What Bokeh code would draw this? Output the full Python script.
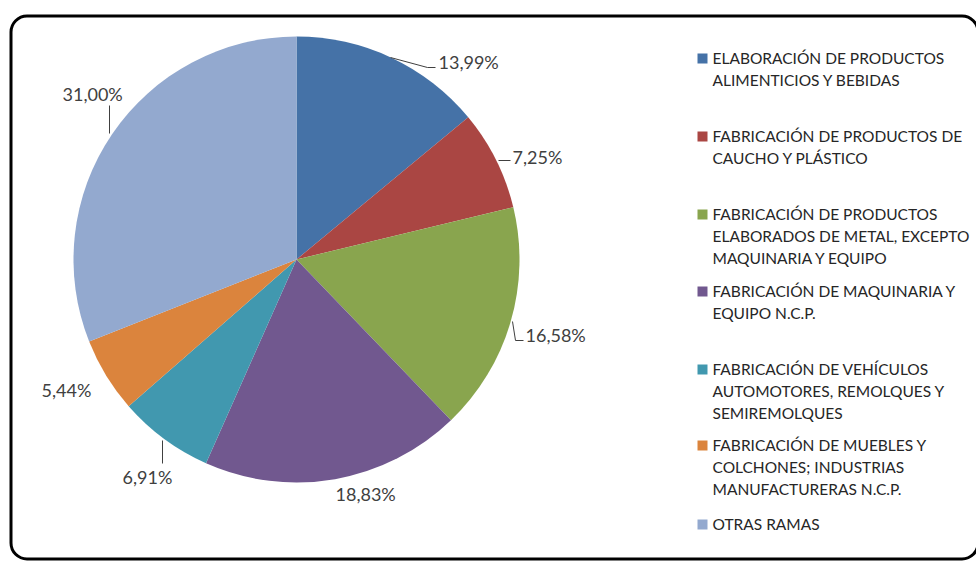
import numpy as np
from bokeh.plotting import figure
from bokeh.models import Range1d, BoxAnnotation, ColumnDataSource
from bokeh.core.properties import value
from bokeh.embed import file_html
from bokeh.resources import INLINE

# ---- data ----
categories = [
    "ELABORACIÓN DE PRODUCTOS\nALIMENTICIOS Y BEBIDAS",
    "FABRICACIÓN DE PRODUCTOS DE\nCAUCHO Y PLÁSTICO",
    "FABRICACIÓN DE PRODUCTOS\nELABORADOS DE METAL, EXCEPTO\nMAQUINARIA Y EQUIPO",
    "FABRICACIÓN DE MAQUINARIA Y\nEQUIPO N.C.P.",
    "FABRICACIÓN DE VEHÍCULOS\nAUTOMOTORES, REMOLQUES Y\nSEMIREMOLQUES",
    "FABRICACIÓN DE MUEBLES Y\nCOLCHONES; INDUSTRIAS\nMANUFACTURERAS N.C.P.",
    "OTRAS RAMAS",
]
shares = [13.99, 7.25, 16.58, 18.83, 6.91, 5.44, 31.00]
colors = ["#4572A7", "#AA4643", "#89A54E", "#71588F", "#4198AF", "#DB843D", "#93A9CF"]

# ---- layout (page pixel coordinates) ----
W, H = 976, 561
def Y(py):
    return H - py

cx, cy, R = 296, 259, 223
# label text left x, center y
label_pos = [(438, 61), (512, 156), (525, 334), (335, 493), (122, 476), (41, 389), (62, 93)]
leaders = [
    [(390, 57), (427, 67), (435, 67)],
    [(498, 160), (510, 160)],
    [(512, 321), (515, 340), (523, 340)],
    None,
    [(162, 440), (162, 463)],
    None,
    [(109, 133), (109, 105)],
]
legend_x = 697
legend_text_x = 712
legend_y = [57, 135, 213, 290, 368, 444, 523]
line_h = 22

p = figure(width=W, height=H, output_backend="svg", toolbar_location=None,
           x_range=Range1d(0, W), y_range=Range1d(0, H),
           min_border=0, outline_line_color=None)
p.axis.visible = False
p.grid.visible = False
p.background_fill_color = "white"

# border
p.add_layout(BoxAnnotation(left=10.5, right=977.5, top=Y(15.5), bottom=Y(558.5),
                           fill_alpha=0, line_color="black", line_alpha=1.0,
                           line_width=3, border_radius=16))

# pie
fr = np.array(shares) / sum(shares)
cum = np.concatenate([[0], np.cumsum(fr)])
start = np.pi / 2 - 2 * np.pi * cum[:-1]
end = np.pi / 2 - 2 * np.pi * cum[1:]
src = ColumnDataSource(dict(start=start, end=end, color=colors))
p.wedge(x=cx, y=Y(cy), radius=R, start_angle="start", end_angle="end",
        direction="clock", fill_color="color", line_color=None, source=src)

# leader lines
for ld in leaders:
    if ld:
        p.line([a for a, b in ld], [Y(b) for a, b in ld], line_color="#404040", line_width=1)

# labels
lbl = [f"{v:.2f}%".replace(".", ",") for v in shares]
p.text(x=[a for a, b in label_pos], y=[Y(b) for a, b in label_pos], text=lbl,
       text_font=value("Lato"), text_font_size="18px", text_color="#404040",
       text_baseline="middle", text_align="left")

# legend
p.rect(x=[legend_x + 5] * len(colors), y=[Y(v) - 1 for v in legend_y], width=10, height=10,
       fill_color=colors, line_color=None)
tx, ty, tt = [], [], []
for c, y0 in zip(categories, legend_y):
    for i, ln in enumerate(c.split("\n")):
        tx.append(legend_text_x)
        ty.append(Y(y0 + i * line_h))
        tt.append(ln)
p.text(x=tx, y=ty, text=tt, text_font=value("Lato"), text_font_size="15.5px",
       text_color="#262626", text_baseline="middle", text_align="left")

open("out.html", "w").write(file_html(p, INLINE))
